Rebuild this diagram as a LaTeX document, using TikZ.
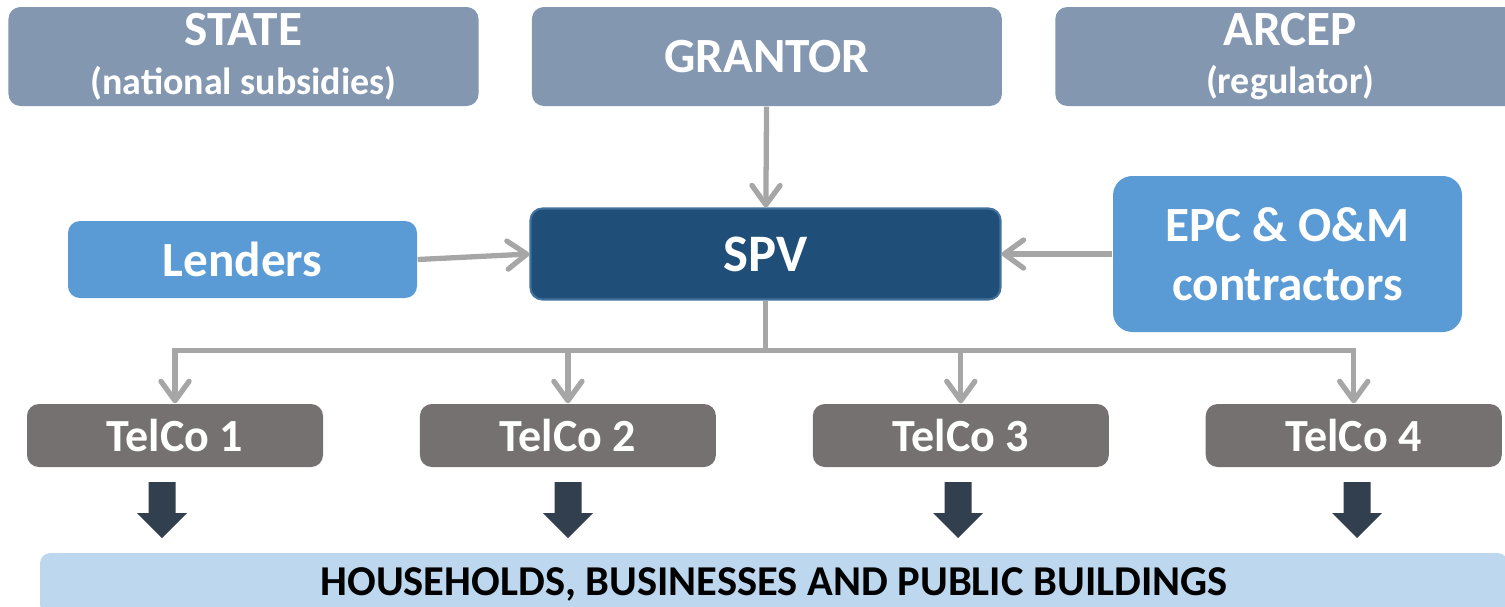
\documentclass[tikz,border=0pt]{standalone}
\usepackage{fontspec}
\setmainfont{Carlito}
\usetikzlibrary{arrows.meta,positioning,calc}
\definecolor{slate}{HTML}{8497B0}
\definecolor{navy}{HTML}{1F4E79}
\definecolor{navyedge}{HTML}{41719C}
\definecolor{sky}{HTML}{5B9BD5}
\definecolor{taupe}{HTML}{767171}
\definecolor{pale}{HTML}{BDD7EE}
\definecolor{wire}{HTML}{A6A6A6}
\definecolor{ink}{HTML}{323F4F}
\newcommand{\fs}[1]{\fontsize{#1}{1.2\dimexpr#1pt}\selectfont}
\tikzset{>={Straight Barb[length=5.5pt,width=8pt,round]},
box/.style={rounded corners=3.4pt,align=center,inner sep=0pt,text=white,font=\bfseries\fs{14}},
topbox/.style={box,fill=slate,minimum width=4.7cm,minimum height=.99cm},
sidebox/.style={box,fill=sky,minimum width=3.49cm},
telbox/.style={box,fill=taupe,font=\bfseries\fs{13.1},minimum width=2.96cm,minimum height=.63cm},
conn/.style={->,line width=1.5pt,wire}}
\begin{document}
\begin{tikzpicture}
\useasboundingbox (0,0) rectangle (15.05,-6.06);
% top row
\node[topbox] (state) at (2.435,-.565) {STATE\\[-3pt]{\fs{10.8}(national subsidies)}};
\node[topbox,right=.52cm of state] (grantor) {GRANTOR};
\node[topbox,right=.52cm of grantor] (arcep) {ARCEP\\[-3pt]{\fs{10.8}(regulator)}};
% middle row
\node[sidebox,minimum height=.77cm] (lenders) at (2.425,-2.595) {Lenders};
\node[box,fill=navy,draw=navyedge,line width=.6pt,minimum width=4.7cm,minimum height=.91cm,font=\bfseries\fs{15}] (spv) at (7.655,-2.54) {SPV};
\node[sidebox,rounded corners=5.5pt,minimum height=1.56cm] (epc) at (12.875,-2.54) {EPC \& O\&M\\contractors};
% telcos
\node[telbox] (t1) at (1.75,-4.355) {TelCo 1};
\node[telbox,right=.955cm of t1] (t2) {TelCo 2};
\node[telbox,right=.955cm of t2] (t3) {TelCo 3};
\node[telbox,right=.955cm of t3] (t4) {TelCo 4};
\node[box,fill=pale,text=black,font=\bfseries\fs{12.1},rounded corners=3pt,minimum width=14.68cm,minimum height=.62cm] (homes) at (7.74,-5.84) {HOUSEHOLDS, BUSINESSES AND PUBLIC BUILDINGS};
% connectors
\draw[conn] (grantor) -- (spv);
\draw[conn] (lenders.east) -- (spv.west);
\draw[conn] (epc.west) -- (spv.east);
\foreach \i in {1,...,4}{\draw[conn] (spv.south) -- ++(0,-.5) -| (t\i.north);}
% block arrows
\foreach \x in {1.62,5.68,9.58,13.57}{\fill[ink] (\x-.135,-4.82) -- (\x+.135,-4.82) -- (\x+.135,-5.13) -- (\x+.25,-5.13) -- (\x,-5.38) -- (\x-.25,-5.13) -- (\x-.135,-5.13) -- cycle;}
\end{tikzpicture}
\end{document}
